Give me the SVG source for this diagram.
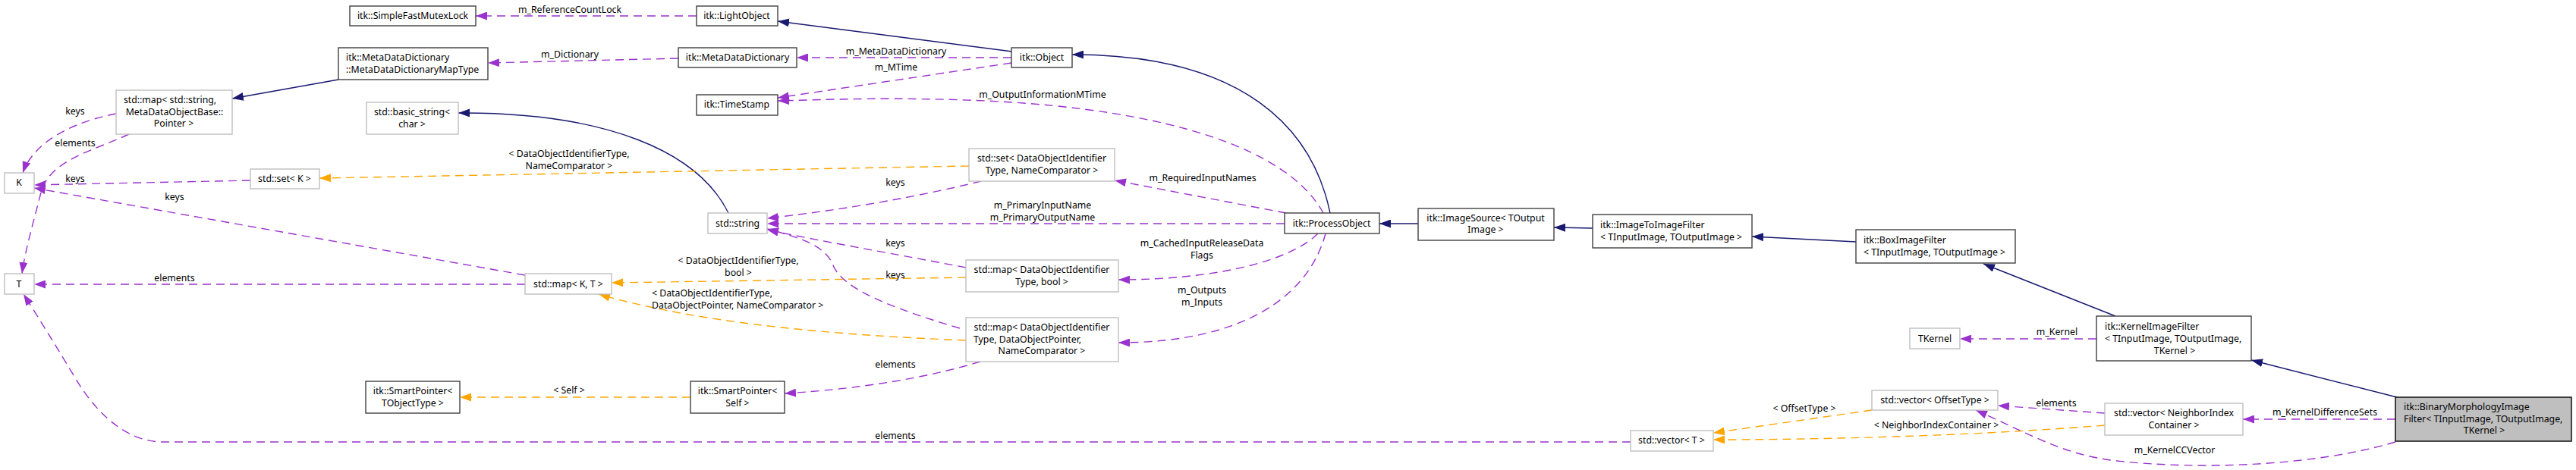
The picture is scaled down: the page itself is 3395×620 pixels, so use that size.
<svg xmlns="http://www.w3.org/2000/svg" width="3395" height="620" viewBox="0 0 3395 620">
<style>
text{font-family:"Noto Sans","DejaVu Sans",sans-serif;font-size:12.3px;fill:#000}
.c{text-anchor:middle}
.s{text-anchor:start}
.d{fill:#fff;stroke:#404040;stroke-width:1.4}
.g{fill:#fff;stroke:#bfbfbf;stroke-width:1.4}
.h{fill:#bfbfbf;stroke:#000;stroke-width:1.4}
.inh{fill:none;stroke:#191970;stroke-width:1.4;marker-end:url(#an)}
.use{fill:none;stroke:#9a32cd;stroke-width:1.4;stroke-dasharray:11,7;marker-end:url(#ap)}
.tpl{fill:none;stroke:#ffa500;stroke-width:1.4;stroke-dasharray:11,7;marker-end:url(#ao)}
</style>
<defs>
<marker id="an" viewBox="0 0 15 11" refX="15" refY="5.5" markerWidth="15" markerHeight="11" markerUnits="userSpaceOnUse" orient="auto"><path d="M0,0 L15,5.5 L0,11 z" fill="#191970"/></marker>
<marker id="ap" viewBox="0 0 15 11" refX="15" refY="5.5" markerWidth="15" markerHeight="11" markerUnits="userSpaceOnUse" orient="auto"><path d="M0,0 L15,5.5 L0,11 z" fill="#9a32cd"/></marker>
<marker id="ao" viewBox="0 0 15 11" refX="15" refY="5.5" markerWidth="15" markerHeight="11" markerUnits="userSpaceOnUse" orient="auto"><path d="M0,0 L15,5.5 L0,11 z" fill="#ffa500"/></marker>
</defs>
<rect width="3395" height="620" fill="#fff"/>

<g id="edges">
<path class="inh" d="M1334,68 L1025,28"/>
<path class="inh" d="M446,105 L306,130"/>
<path class="inh" d="M960,281 C920,200 800,148 604,149"/>
<path class="inh" d="M1753,281 C1730,170 1640,72 1413,72"/>
<path class="inh" d="M1869,295 L1818,295"/>
<path class="inh" d="M2099,301 L2048,300"/>
<path class="inh" d="M2446,319 L2309,312"/>
<path class="inh" d="M2788,417 L2614,348"/>
<path class="inh" d="M3159,524 L2967,475"/>

<path class="use" d="M918,21 L627,21"/>
<path class="use" d="M894,77 L643,83"/>
<path class="use" d="M1333,76 L1050,76"/>
<path class="use" d="M1333,83 L1025,129"/>
<path class="use" d="M1744,281 C1700,200 1550,145 1300,133 C1180,128 1100,131 1025,133"/>
<path class="use" d="M1695,281 L1469,238"/>
<path class="use" d="M1693,295 L1011,295"/>
<path class="use" d="M1737,308 C1700,345 1600,369 1474,369"/>
<path class="use" d="M1747,308 C1725,390 1640,452 1474,452"/>
<path class="use" d="M1293,239 C1200,262 1100,278 1011,288"/>
<path class="use" d="M1273,353 C1180,335 1080,318 1011,303"/>
<path class="use" d="M1265,433 C1170,405 1110,380 1098,350 C1088,325 1060,315 1011,302"/>
<path class="use" d="M1292,477 C1200,505 1100,515 1034,519"/>
<path class="use" d="M153,150 C100,160 45,185 30,228"/>
<path class="use" d="M170,177 C120,200 70,210 55,250 C45,290 33,330 29,361"/>
<path class="use" d="M330,238 L45,244"/>
<path class="use" d="M692,363 L45,248"/>
<path class="use" d="M692,375 L45,375"/>
<path class="use" d="M2149,583 L215,583 C170,583 130,550 100,500 C70,450 45,410 31,388"/>
<path class="use" d="M2763,447 L2583,447"/>
<path class="use" d="M2774,545 L2633,535"/>
<path class="use" d="M3157,553 L2956,553"/>
<path class="use" d="M3157,583 C3050,615 2900,620 2790,608 C2720,600 2680,575 2604,541"/>

<path class="tpl" d="M1277,219 C1000,224 700,230 421,235"/>
<path class="tpl" d="M1273,366 L806,373"/>
<path class="tpl" d="M1273,449 C1050,440 900,420 789,388"/>
<path class="tpl" d="M910,524 L606,524"/>
<path class="tpl" d="M2467,541 L2258,571"/>
<path class="tpl" d="M2774,561 C2600,575 2400,580 2258,580"/>

<text class="c" x="751" y="17">m_ReferenceCountLock</text>
<text class="c" x="751" y="76">m_Dictionary</text>
<text class="c" x="1181" y="72">m_MetaDataDictionary</text>
<text class="c" x="1181" y="93">m_MTime</text>
<text class="c" x="1374" y="129">m_OutputInformationMTime</text>
<text class="c" x="1585" y="239">m_RequiredInputNames</text>
<text class="c" x="1374" y="275">m_PrimaryInputName</text>
<text class="c" x="1374" y="291">m_PrimaryOutputName</text>
<text class="c" x="1584" y="325">m_CachedInputReleaseData</text>
<text class="c" x="1584" y="341">Flags</text>
<text class="c" x="1584" y="387">m_Outputs</text>
<text class="c" x="1584" y="403">m_Inputs</text>
<text class="c" x="1180" y="245">keys</text>
<text class="c" x="1180" y="325">keys</text>
<text class="c" x="1180" y="367">keys</text>
<text class="c" x="1180" y="485">elements</text>
<text class="c" x="99" y="151">keys</text>
<text class="c" x="99" y="193">elements</text>
<text class="c" x="99" y="240">keys</text>
<text class="c" x="230" y="264">keys</text>
<text class="c" x="230" y="371">elements</text>
<text class="c" x="1180" y="579">elements</text>
<text class="c" x="2711" y="442">m_Kernel</text>
<text class="c" x="2710" y="536">elements</text>
<text class="c" x="3064" y="548">m_KernelDifferenceSets</text>
<text class="c" x="2866" y="598">m_KernelCCVector</text>
<text class="c" x="750" y="207">&lt; DataObjectIdentifierType,</text>
<text class="c" x="750" y="223">NameComparator &gt;</text>
<text class="c" x="973" y="348">&lt; DataObjectIdentifierType,</text>
<text class="c" x="973" y="364">bool &gt;</text>
<text class="s" x="859" y="391">&lt; DataObjectIdentifierType,</text>
<text class="s" x="859" y="407">DataObjectPointer, NameComparator &gt;</text>
<text class="c" x="750" y="519">&lt; Self &gt;</text>
<text class="c" x="2378" y="543">&lt; OffsetType &gt;</text>
<text class="c" x="2552" y="565">&lt; NeighborIndexContainer &gt;</text>
</g>

<g id="sfml"><rect class="d" x="461" y="8" width="166" height="26"/><text class="c" x="544" y="25">itk::SimpleFastMutexLock</text></g>
<g id="mdmt"><rect class="d" x="446" y="63" width="197" height="42"/><text class="s" x="456" y="80">itk::MetaDataDictionary</text><text class="s" x="456" y="96">::MetaDataDictionaryMapType</text></g>
<g id="mapstr"><rect class="g" x="153" y="119" width="153" height="58"/><text class="c" x="224" y="136">std::map&lt; std::string,</text><text class="c" x="230" y="152">MetaDataObjectBase::</text><text class="c" x="229" y="167">Pointer &gt;</text></g>
<g id="basic"><rect class="g" x="483" y="135" width="121" height="42"/><text class="c" x="543" y="152">std::basic_string&lt;</text><text class="c" x="543" y="168">char &gt;</text></g>
<g id="K"><rect class="g" x="6" y="228" width="39" height="27"/><text class="c" x="25" y="245">K</text></g>
<g id="T"><rect class="g" x="6" y="361" width="39" height="27"/><text class="c" x="25" y="379">T</text></g>
<g id="setK"><rect class="g" x="330" y="223" width="91" height="26"/><text class="c" x="375" y="240">std::set&lt; K &gt;</text></g>
<g id="lightobj"><rect class="d" x="918" y="8" width="107" height="26"/><text class="c" x="971" y="25">itk::LightObject</text></g>
<g id="mdd"><rect class="d" x="894" y="63" width="156" height="26"/><text class="c" x="972" y="80">itk::MetaDataDictionary</text></g>
<g id="ts"><rect class="d" x="918" y="125" width="107" height="27"/><text class="c" x="971" y="142">itk::TimeStamp</text></g>
<g id="obj"><rect class="d" x="1333" y="63" width="80" height="26"/><text class="c" x="1373" y="80">itk::Object</text></g>
<g id="str"><rect class="g" x="933" y="281" width="78" height="27"/><text class="c" x="972" y="299">std::string</text></g>
<g id="setDO"><rect class="g" x="1277" y="196" width="192" height="43"/><text class="c" x="1373" y="213">std::set&lt; DataObjectIdentifier</text><text class="c" x="1373" y="229">Type, NameComparator &gt;</text></g>
<g id="mapKT"><rect class="g" x="692" y="361" width="114" height="27"/><text class="c" x="749" y="379">std::map&lt; K, T &gt;</text></g>
<g id="mapBool"><rect class="g" x="1273" y="343" width="201" height="42"/><text class="c" x="1373" y="360">std::map&lt; DataObjectIdentifier</text><text class="c" x="1373" y="376">Type, bool &gt;</text></g>
<g id="mapDOP"><rect class="g" x="1273" y="419" width="201" height="58"/><text class="c" x="1373" y="436">std::map&lt; DataObjectIdentifier</text><text class="s" x="1283" y="452">Type, DataObjectPointer,</text><text class="c" x="1373" y="467">NameComparator &gt;</text></g>
<g id="spTO"><rect class="d" x="482" y="503" width="124" height="42"/><text class="c" x="544" y="520">itk::SmartPointer&lt;</text><text class="c" x="544" y="536">TObjectType &gt;</text></g>
<g id="spSelf"><rect class="d" x="910" y="503" width="124" height="42"/><text class="c" x="972" y="520">itk::SmartPointer&lt;</text><text class="c" x="972" y="536">Self &gt;</text></g>
<g id="po"><rect class="d" x="1693" y="281" width="125" height="27"/><text class="c" x="1755" y="299">itk::ProcessObject</text></g>
<g id="is"><rect class="d" x="1869" y="275" width="179" height="42"/><text class="c" x="1958" y="292">itk::ImageSource&lt; TOutput</text><text class="c" x="1958" y="307">Image &gt;</text></g>
<g id="i2i"><rect class="d" x="2099" y="283" width="210" height="44"/><text class="s" x="2109" y="301">itk::ImageToImageFilter</text><text class="s" x="2109" y="317">&lt; TInputImage, TOutputImage &gt;</text></g>
<g id="box"><rect class="d" x="2446" y="303" width="210" height="44"/><text class="s" x="2456" y="321">itk::BoxImageFilter</text><text class="s" x="2456" y="337">&lt; TInputImage, TOutputImage &gt;</text></g>
<g id="tkernel"><rect class="g" x="2517" y="433" width="66" height="27"/><text class="c" x="2550" y="451">TKernel</text></g>
<g id="kif"><rect class="d" x="2763" y="417" width="204" height="59"/><text class="s" x="2774" y="435">itk::KernelImageFilter</text><text class="s" x="2774" y="451">&lt; TInputImage, TOutputImage,</text><text class="c" x="2866" y="467">TKernel &gt;</text></g>
<g id="vecOff"><rect class="g" x="2467" y="515" width="166" height="26"/><text class="c" x="2550" y="532">std::vector&lt; OffsetType &gt;</text></g>
<g id="vecT"><rect class="g" x="2149" y="568" width="109" height="27"/><text class="c" x="2203" y="585">std::vector&lt; T &gt;</text></g>
<g id="vecNI"><rect class="g" x="2774" y="532" width="182" height="42"/><text class="c" x="2865" y="549">std::vector&lt; NeighborIndex</text><text class="c" x="2865" y="565">Container &gt;</text></g>
<g id="bin"><rect class="h" x="3157" y="524" width="232" height="58"/><text class="s" x="3168" y="541">itk::BinaryMorphologyImage</text><text class="s" x="3168" y="557">Filter&lt; TInputImage, TOutputImage,</text><text class="c" x="3274" y="572">TKernel &gt;</text></g>
</svg>
